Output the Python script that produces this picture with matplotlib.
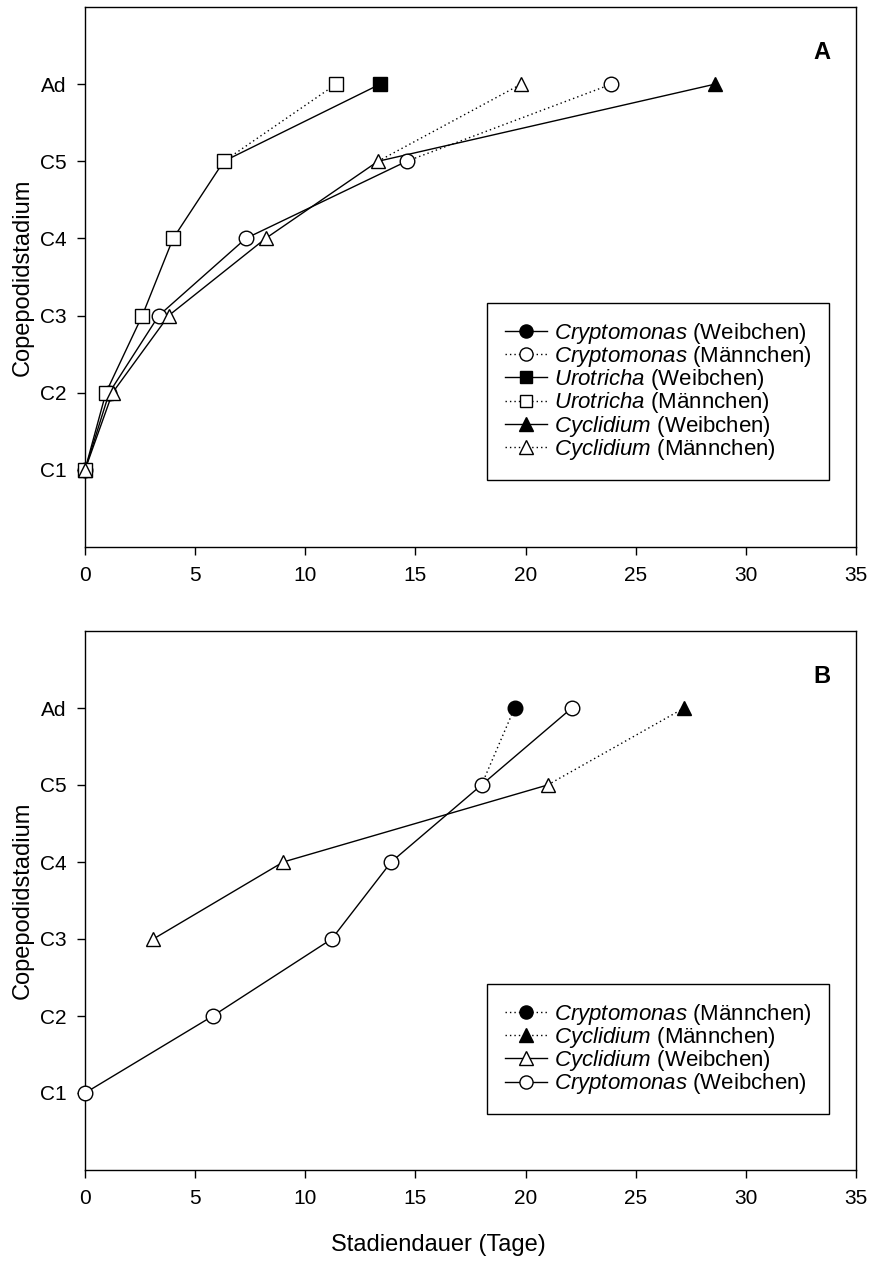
import matplotlib
matplotlib.use("Agg")
import matplotlib.pyplot as plt
from matplotlib.lines import Line2D
import numpy as np

plt.rcParams["font.family"] = ["Liberation Sans", "DejaVu Sans"]
plt.rcParams["mathtext.fontset"] = "custom"
plt.rcParams["mathtext.it"] = "Liberation Sans:italic"
plt.rcParams["mathtext.rm"] = "Liberation Sans"

# Copepodid stages on the y axis
stage_labels = ["C1", "C2", "C3", "C4", "C5", "Ad"]
stage_pos = [1, 2, 3, 4, 5, 6]

# ---- Panel A: cumulative stage duration (days) ----
# juvenile stages C1..C5, shared by both sexes
a_crypto_juv = [0.0, 1.1, 3.35, 7.3, 14.6]
a_uro_juv = [0.0, 0.95, 2.6, 4.0, 6.3]
a_cycl_juv = [0.0, 1.25, 3.8, 8.2, 13.3]
# adult stage
a_crypto_ad_f = None
a_crypto_ad_m = 23.9
a_uro_ad_f = 13.4
a_uro_ad_m = 11.4
a_cycl_ad_f = 28.6
a_cycl_ad_m = 19.8

# ---- Panel B ----
b_crypto_f = [0.0, 5.8, 11.2, 13.9, 18.0, 22.1]   # C1..Ad
b_crypto_f_stages = [1, 2, 3, 4, 5, 6]
b_cycl_f = [3.1, 9.0, 21.0]                        # C3..C5
b_cycl_f_stages = [3, 4, 5]
b_crypto_ad_m = 19.5
b_cycl_ad_m = 27.2

W, H, DPI = 874, 1263, 100
fig = plt.figure(figsize=(W / DPI, H / DPI), dpi=DPI)

left, right = 85 / W, 856 / W
axA = fig.add_axes([left, 1 - 547 / H, right - left, 540 / H])
axB = fig.add_axes([left, 1 - 1170 / H, right - left, 539 / H])

LW = 1.0
DOT = (0, (1, 2.2))
MS = {"o": 10.5, "s": 9.5, "^": 10.5}


def line(ax, x, y, ls):
    ax.plot(x, y, color="black", lw=LW, linestyle=ls, zorder=2)


def marks(ax, x, y, m, filled):
    ax.plot(x, y, linestyle="none", marker=m, markersize=MS[m],
            markerfacecolor="black" if filled else "white",
            markeredgecolor="black", markeredgewidth=1.0, zorder=3,
            clip_on=False)


# Panel A
series_a = [
    (a_crypto_juv, a_crypto_ad_f, a_crypto_ad_m, "o"),
    (a_uro_juv, a_uro_ad_f, a_uro_ad_m, "s"),
    (a_cycl_juv, a_cycl_ad_f, a_cycl_ad_m, "^"),
]
for juv, ad_f, ad_m, m in series_a:
    xs_f = juv + ([ad_f] if ad_f is not None else [])
    line(axA, xs_f, stage_pos[:len(xs_f)], "-")
    line(axA, [juv[-1], ad_m], [5, 6], DOT)
for juv, ad_f, ad_m, m in series_a:
    if ad_f is not None:
        marks(axA, [ad_f], [6], m, True)
    marks(axA, [ad_m], [6], m, False)
    marks(axA, juv, stage_pos[:5], m, False)

# Panel B
line(axB, b_crypto_f, b_crypto_f_stages, "-")
line(axB, b_cycl_f, b_cycl_f_stages, "-")
line(axB, [b_crypto_f[4], b_crypto_ad_m], [5, 6], DOT)
line(axB, [b_cycl_f[-1], b_cycl_ad_m], [5, 6], DOT)
marks(axB, [b_crypto_ad_m], [6], "o", True)
marks(axB, [b_cycl_ad_m], [6], "^", True)
marks(axB, b_cycl_f, b_cycl_f_stages, "^", False)
marks(axB, b_crypto_f, b_crypto_f_stages, "o", False)

FS = 15
LEG_FS = 16
for ax, letter in [(axA, "A"), (axB, "B")]:
    ax.set_xlim(0, 35)
    ax.set_ylim(0, 7)
    ax.set_xticks(np.arange(0, 36, 5))
    ax.set_yticks(stage_pos)
    ax.set_yticklabels(stage_labels)
    ax.tick_params(axis="x", direction="out", length=5.5, width=1.0,
                   labelsize=FS, pad=8.5)
    ax.tick_params(axis="y", direction="out", length=5.5, width=1.0,
                   labelsize=FS, pad=8)
    for s in ax.spines.values():
        s.set_linewidth(1.0)
    ax.set_ylabel("Copepodidstadium", fontsize=17, labelpad=4)
    ax.text(0.956, 0.915, letter, transform=ax.transAxes, fontsize=17,
            fontweight="bold", ha="center", va="center")


def handle(m, ls, filled):
    return Line2D([], [], color="black", lw=LW, linestyle=ls, marker=m,
                  markersize=MS[m] * 0.9,
                  markerfacecolor="black" if filled else "white",
                  markeredgecolor="black")


legA_handles = [
    handle("o", "-", True), handle("o", DOT, False),
    handle("s", "-", True), handle("s", DOT, False),
    handle("^", "-", True), handle("^", DOT, False),
]
legA_labels = [
    r"$\mathit{Cryptomonas}$ (Weibchen)",
    r"$\mathit{Cryptomonas}$ (Männchen)",
    r"$\mathit{Urotricha}$ (Weibchen)",
    r"$\mathit{Urotricha}$ (Männchen)",
    r"$\mathit{Cyclidium}$ (Weibchen)",
    r"$\mathit{Cyclidium}$ (Männchen)",
]
legB_handles = [
    handle("o", DOT, True), handle("^", DOT, True),
    handle("^", "-", False), handle("o", "-", False),
]
legB_labels = [
    r"$\mathit{Cryptomonas}$ (Männchen)",
    r"$\mathit{Cyclidium}$ (Männchen)",
    r"$\mathit{Cyclidium}$ (Weibchen)",
    r"$\mathit{Cryptomonas}$ (Weibchen)",
]

for ax, hs, ls, top in [(axA, legA_handles, legA_labels, 303),
                        (axB, legB_handles, legB_labels, 984)]:
    leg = ax.legend(hs, ls, loc="upper left",
                    bbox_to_anchor=(487 / W, 1 - top / H),
                    bbox_transform=fig.transFigure, borderaxespad=0,
                    fontsize=LEG_FS, frameon=True, fancybox=False,
                    edgecolor="black", framealpha=1, labelspacing=-0.08,
                    handlelength=1.9, handletextpad=0.3, borderpad=0.8)
    leg.get_frame().set_linewidth(1.0)

fig.text(0.502, 1 - 1245 / H, "Stadiendauer (Tage)", fontsize=17,
         ha="center", va="center")

fig.savefig("out.png", dpi=DPI)
